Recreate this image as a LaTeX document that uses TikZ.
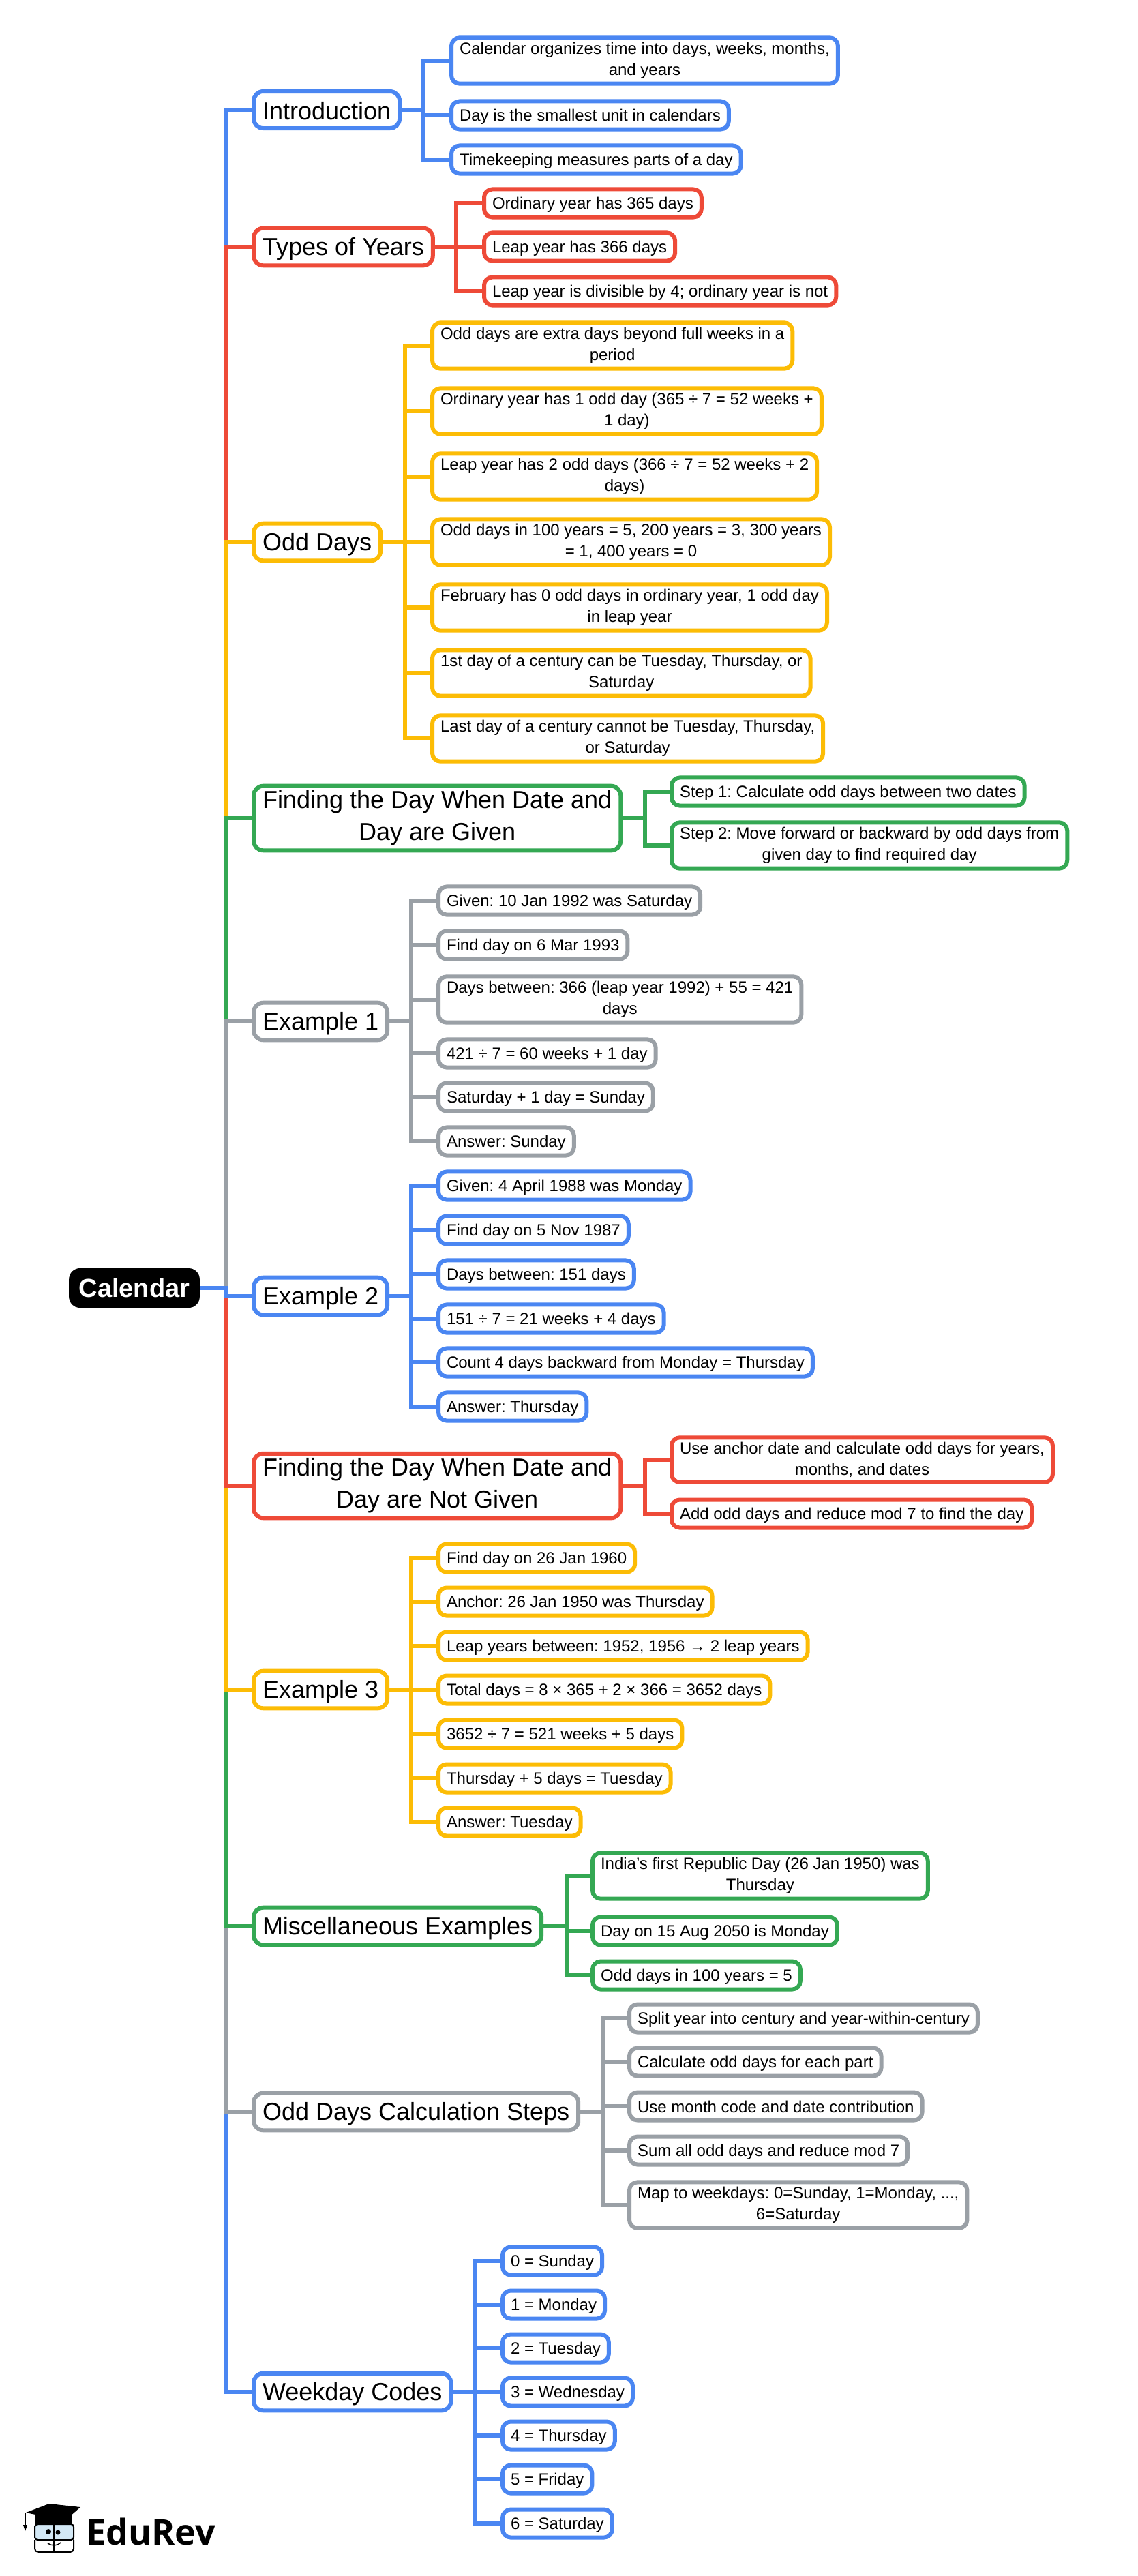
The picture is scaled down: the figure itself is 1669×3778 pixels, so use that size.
\documentclass[tikz,border=0pt]{standalone}
\usepackage{fontspec}
\setmainfont{Liberation Sans}
\newfontfamily\logofont{Open Sans}
\usepackage{tikz}
\usetikzlibrary{calc,backgrounds}
\definecolor{myblue}{HTML}{4A86F2}
\definecolor{myred}{HTML}{EE4A38}
\definecolor{myyellow}{HTML}{FCBC05}
\definecolor{mygreen}{HTML}{34A853}
\definecolor{mygrey}{HTML}{9AA0A6}
\definecolor{myglass}{HTML}{D3E8F5}
\newcommand{\linerule}{\rule[-.1em]{0pt}{1.02em}}
\frenchspacing
\tikzset{
  rootbox/.style={fill=black,text=white,rounded corners=16pt,anchor=west,inner xsep=14.5pt,inner ysep=0pt,minimum height=58pt,font=\fontsize{38}{46}\selectfont\bfseries},
  topicbox/.style={draw=#1,fill=white,line width=6pt,rounded corners=14pt,anchor=west,inner xsep=13pt,inner ysep=7pt,minimum height=54pt,align=center,font=\fontsize{36}{47}\selectfont,execute at begin node=\linerule,execute at end node=\linerule},
  leafbox/.style={draw=#1,fill=white,line width=6pt,rounded corners=12pt,anchor=west,inner xsep=12pt,inner ysep=7pt,minimum height=41pt,align=center,font=\fontsize{24}{31}\selectfont,execute at begin node=\linerule,execute at end node=\linerule},
  branch/.style={line width=6pt}
}
\begin{document}
\begin{tikzpicture}
\useasboundingbox (0pt,0pt) rectangle (1669pt,-3778pt);
\coordinate (rootbus) at (332pt,0pt);
\coordinate (1bus) at (620pt,0pt);
\coordinate (2bus) at (669pt,0pt);
\coordinate (3bus) at (594pt,0pt);
\coordinate (4bus) at (946pt,0pt);
\coordinate (5bus) at (603pt,0pt);
\coordinate (6bus) at (603pt,0pt);
\coordinate (7bus) at (946pt,0pt);
\coordinate (8bus) at (603pt,0pt);
\coordinate (9bus) at (832pt,0pt);
\coordinate (10bus) at (885pt,0pt);
\coordinate (11bus) at (697pt,0pt);

\node[rootbox] (0) at (101pt,-1889pt) {Calendar};

% main topics
\node[topicbox=myblue] (1) at (369pt,-161pt) {Introduction};
\node[topicbox=myred] (2) at (369pt,-362pt) {Types of Years};
\node[topicbox=myyellow] (3) at (369pt,-795pt) {Odd Days};
\node[topicbox=mygreen] (4) at (369pt,-1200pt) {Finding the Day When Date and\\Day are Given};
\node[topicbox=mygrey] (5) at (369pt,-1498pt) {Example 1};
\node[topicbox=myblue] (6) at (369pt,-1901pt) {Example 2};
\node[topicbox=myred] (7) at (369pt,-2179pt) {Finding the Day When Date and\\Day are Not Given};
\node[topicbox=myyellow] (8) at (369pt,-2478pt) {Example 3};
\node[topicbox=mygreen] (9) at (369pt,-2825pt) {Miscellaneous Examples};
\node[topicbox=mygrey] (10) at (369pt,-3097pt) {Odd Days Calculation Steps};
\node[topicbox=myblue] (11) at (369pt,-3508pt) {Weekday Codes};

% Introduction
\node[leafbox=myblue] (1a) at (659pt,-89pt) {Calendar organizes time into days, weeks, months,\\and years};
\node[leafbox=myblue] (1b) at (659pt,-169pt) {Day is the smallest unit in calendars};
\node[leafbox=myblue] (1c) at (659pt,-234pt) {Timekeeping measures parts of a day};

% Types of Years
\node[leafbox=myred] (2a) at (707pt,-298pt) {Ordinary year has 365 days};
\node[leafbox=myred] (2b) at (707pt,-362pt) {Leap year has 366 days};
\node[leafbox=myred] (2c) at (707pt,-427pt) {Leap year is divisible by 4; ordinary year is not};

% Odd Days
\node[leafbox=myyellow] (3a) at (631pt,-507pt) {Odd days are extra days beyond full weeks in a\\period};
\node[leafbox=myyellow] (3b) at (631pt,-603pt) {Ordinary year has 1 odd day (365 ÷ 7 = 52 weeks +\\1 day)};
\node[leafbox=myyellow] (3c) at (631pt,-699pt) {Leap year has 2 odd days (366 ÷ 7 = 52 weeks + 2\\days)};
\node[leafbox=myyellow] (3d) at (631pt,-795pt) {Odd days in 100 years = 5, 200 years = 3, 300 years\\= 1, 400 years = 0};
\node[leafbox=myyellow] (3e) at (631pt,-891pt) {February has 0 odd days in ordinary year, 1 odd day\\in leap year};
\node[leafbox=myyellow] (3f) at (631pt,-987pt) {1st day of a century can be Tuesday, Thursday, or\\Saturday};
\node[leafbox=myyellow] (3g) at (631pt,-1083pt) {Last day of a century cannot be Tuesday, Thursday,\\or Saturday};

% Finding the Day When Date and Day are Given
\node[leafbox=mygreen] (4a) at (982pt,-1161pt) {Step 1: Calculate odd days between two dates};
\node[leafbox=mygreen] (4b) at (982pt,-1240pt) {Step 2: Move forward or backward by odd days from\\given day to find required day};

% Example 1
\node[leafbox=mygrey] (5a) at (640pt,-1321pt) {Given: 10 Jan 1992 was Saturday};
\node[leafbox=mygrey] (5b) at (640pt,-1386pt) {Find day on 6 Mar 1993};
\node[leafbox=mygrey] (5c) at (640pt,-1466pt) {Days between: 366 (leap year 1992) + 55 = 421\\days};
\node[leafbox=mygrey] (5d) at (640pt,-1545pt) {421 ÷ 7 = 60 weeks + 1 day};
\node[leafbox=mygrey] (5e) at (640pt,-1609pt) {Saturday + 1 day = Sunday};
\node[leafbox=mygrey] (5f) at (640pt,-1674pt) {Answer: Sunday};

% Example 2
\node[leafbox=myblue] (6a) at (640pt,-1739pt) {Given: 4 April 1988 was Monday};
\node[leafbox=myblue] (6b) at (640pt,-1804pt) {Find day on 5 Nov 1987};
\node[leafbox=myblue] (6c) at (640pt,-1869pt) {Days between: 151 days};
\node[leafbox=myblue] (6d) at (640pt,-1934pt) {151 ÷ 7 = 21 weeks + 4 days};
\node[leafbox=myblue] (6e) at (640pt,-1998pt) {Count 4 days backward from Monday = Thursday};
\node[leafbox=myblue] (6f) at (640pt,-2063pt) {Answer: Thursday};

% Finding the Day When Date and Day are Not Given
\node[leafbox=myred] (7a) at (982pt,-2141pt) {Use anchor date and calculate odd days for years,\\months, and dates};
\node[leafbox=myred] (7b) at (982pt,-2220pt) {Add odd days and reduce mod 7 to find the day};

% Example 3
\node[leafbox=myyellow] (8a) at (640pt,-2285pt) {Find day on 26 Jan 1960};
\node[leafbox=myyellow] (8b) at (640pt,-2349pt) {Anchor: 26 Jan 1950 was Thursday};
\node[leafbox=myyellow] (8c) at (640pt,-2414pt) {Leap years between: 1952, 1956 → 2 leap years};
\node[leafbox=myyellow] (8d) at (640pt,-2478pt) {Total days = 8 × 365 + 2 × 366 = 3652 days};
\node[leafbox=myyellow] (8e) at (640pt,-2543pt) {3652 ÷ 7 = 521 weeks + 5 days};
\node[leafbox=myyellow] (8f) at (640pt,-2608pt) {Thursday + 5 days = Tuesday};
\node[leafbox=myyellow] (8g) at (640pt,-2672pt) {Answer: Tuesday};

% Miscellaneous Examples
\node[leafbox=mygreen] (9a) at (866pt,-2751pt) {India’s first Republic Day (26 Jan 1950) was\\Thursday};
\node[leafbox=mygreen] (9b) at (866pt,-2832pt) {Day on 15 Aug 2050 is Monday};
\node[leafbox=mygreen] (9c) at (866pt,-2897pt) {Odd days in 100 years = 5};

% Odd Days Calculation Steps
\node[leafbox=mygrey] (10a) at (920pt,-2960pt) {Split year into century and year-within-century};
\node[leafbox=mygrey] (10b) at (920pt,-3024pt) {Calculate odd days for each part};
\node[leafbox=mygrey] (10c) at (920pt,-3089pt) {Use month code and date contribution};
\node[leafbox=mygrey] (10d) at (920pt,-3154pt) {Sum all odd days and reduce mod 7};
\node[leafbox=mygrey] (10e) at (920pt,-3234pt) {Map to weekdays: 0=Sunday, 1=Monday, ...,\\6=Saturday};

% Weekday Codes
\node[leafbox=myblue] (11a) at (734pt,-3316pt) {0 = Sunday};
\node[leafbox=myblue] (11b) at (734pt,-3380pt) {1 = Monday};
\node[leafbox=myblue] (11c) at (734pt,-3444pt) {2 = Tuesday};
\node[leafbox=myblue] (11d) at (734pt,-3508pt) {3 = Wednesday};
\node[leafbox=myblue] (11e) at (734pt,-3572pt) {4 = Thursday};
\node[leafbox=myblue] (11f) at (734pt,-3636pt) {5 = Friday};
\node[leafbox=myblue] (11g) at (734pt,-3701pt) {6 = Saturday};

% connectors behind the boxes
\begin{scope}[on background layer]
\draw[branch,myblue] (1.east) -- (1.east -| 1bus) |- (1a.west);
\draw[branch,myblue] (1.east) -- (1.east -| 1bus) |- (1b.west);
\draw[branch,myblue] (1.east) -- (1.east -| 1bus) |- (1c.west);
\draw[branch,myred] (2.east) -- (2.east -| 2bus) |- (2a.west);
\draw[branch,myred] (2.east) -- (2b.west);
\draw[branch,myred] (2.east) -- (2.east -| 2bus) |- (2c.west);
\draw[branch,myyellow] (3.east) -- (3.east -| 3bus) |- (3a.west);
\draw[branch,myyellow] (3.east) -- (3.east -| 3bus) |- (3b.west);
\draw[branch,myyellow] (3.east) -- (3.east -| 3bus) |- (3c.west);
\draw[branch,myyellow] (3.east) -- (3d.west);
\draw[branch,myyellow] (3.east) -- (3.east -| 3bus) |- (3e.west);
\draw[branch,myyellow] (3.east) -- (3.east -| 3bus) |- (3f.west);
\draw[branch,myyellow] (3.east) -- (3.east -| 3bus) |- (3g.west);
\draw[branch,mygreen] (4.east) -- (4.east -| 4bus) |- (4a.west);
\draw[branch,mygreen] (4.east) -- (4.east -| 4bus) |- (4b.west);
\draw[branch,mygrey] (5.east) -- (5.east -| 5bus) |- (5a.west);
\draw[branch,mygrey] (5.east) -- (5.east -| 5bus) |- (5b.west);
\draw[branch,mygrey] (5.east) -- (5.east -| 5bus) |- (5c.west);
\draw[branch,mygrey] (5.east) -- (5.east -| 5bus) |- (5d.west);
\draw[branch,mygrey] (5.east) -- (5.east -| 5bus) |- (5e.west);
\draw[branch,mygrey] (5.east) -- (5.east -| 5bus) |- (5f.west);
\draw[branch,myblue] (6.east) -- (6.east -| 6bus) |- (6a.west);
\draw[branch,myblue] (6.east) -- (6.east -| 6bus) |- (6b.west);
\draw[branch,myblue] (6.east) -- (6.east -| 6bus) |- (6c.west);
\draw[branch,myblue] (6.east) -- (6.east -| 6bus) |- (6d.west);
\draw[branch,myblue] (6.east) -- (6.east -| 6bus) |- (6e.west);
\draw[branch,myblue] (6.east) -- (6.east -| 6bus) |- (6f.west);
\draw[branch,myred] (7.east) -- (7.east -| 7bus) |- (7a.west);
\draw[branch,myred] (7.east) -- (7.east -| 7bus) |- (7b.west);
\draw[branch,myyellow] (8.east) -- (8.east -| 8bus) |- (8a.west);
\draw[branch,myyellow] (8.east) -- (8.east -| 8bus) |- (8b.west);
\draw[branch,myyellow] (8.east) -- (8.east -| 8bus) |- (8c.west);
\draw[branch,myyellow] (8.east) -- (8d.west);
\draw[branch,myyellow] (8.east) -- (8.east -| 8bus) |- (8e.west);
\draw[branch,myyellow] (8.east) -- (8.east -| 8bus) |- (8f.west);
\draw[branch,myyellow] (8.east) -- (8.east -| 8bus) |- (8g.west);
\draw[branch,mygreen] (9.east) -- (9.east -| 9bus) |- (9a.west);
\draw[branch,mygreen] (9.east) -- (9.east -| 9bus) |- (9b.west);
\draw[branch,mygreen] (9.east) -- (9.east -| 9bus) |- (9c.west);
\draw[branch,mygrey] (10.east) -- (10.east -| 10bus) |- (10a.west);
\draw[branch,mygrey] (10.east) -- (10.east -| 10bus) |- (10b.west);
\draw[branch,mygrey] (10.east) -- (10.east -| 10bus) |- (10c.west);
\draw[branch,mygrey] (10.east) -- (10.east -| 10bus) |- (10d.west);
\draw[branch,mygrey] (10.east) -- (10.east -| 10bus) |- (10e.west);
\draw[branch,myblue] (11.east) -- (11.east -| 11bus) |- (11a.west);
\draw[branch,myblue] (11.east) -- (11.east -| 11bus) |- (11b.west);
\draw[branch,myblue] (11.east) -- (11.east -| 11bus) |- (11c.west);
\draw[branch,myblue] (11.east) -- (11d.west);
\draw[branch,myblue] (11.east) -- (11.east -| 11bus) |- (11e.west);
\draw[branch,myblue] (11.east) -- (11.east -| 11bus) |- (11f.west);
\draw[branch,myblue] (11.east) -- (11.east -| 11bus) |- (11g.west);

% main trunk, top half first, then bottom half upwards
\draw[branch,myblue] (0.east) -- (0.east -| rootbus) |- (1.west);
\draw[branch,myred] (0.east) -- (0.east -| rootbus) |- (2.west);
\draw[branch,myyellow] (0.east) -- (0.east -| rootbus) |- (3.west);
\draw[branch,mygreen] (0.east) -- (0.east -| rootbus) |- (4.west);
\draw[branch,mygrey] (0.east) -- (0.east -| rootbus) |- (5.west);
\draw[branch,myblue] (0.east) -- (0.east -| rootbus) |- (11.west);
\draw[branch,mygrey] (0.east) -- (0.east -| rootbus) |- (10.west);
\draw[branch,mygreen] (0.east) -- (0.east -| rootbus) |- (9.west);
\draw[branch,myyellow] (0.east) -- (0.east -| rootbus) |- (8.west);
\draw[branch,myred] (0.east) -- (0.east -| rootbus) |- (7.west);
\draw[branch,myblue] (0.east) -- (0.east -| rootbus) |- (6.west);
\end{scope}

% logo
\node[anchor=base west,inner sep=0pt,font=\fontsize{52}{52}\selectfont\logofont\bfseries] (logo) at (126pt,-3732pt) {EduRev};
\draw[black,line width=2pt,fill=myglass,rounded corners=4pt] (51pt,-3702pt) rectangle (108pt,-3725pt);
\draw[black,line width=2pt,rounded corners=5pt] (51pt,-3725pt) -- (51pt,-3743pt) -- (108pt,-3743pt) -- (108pt,-3725pt);
\draw[black,line width=2pt] (79pt,-3702pt) -- (79pt,-3743pt);
\fill[black] (51pt,-3688pt) rectangle (105pt,-3702pt);
\fill[black] (38pt,-3685pt) -- (72pt,-3672pt) -- (118pt,-3677pt) -- (95pt,-3697pt) -- cycle;
\draw[black,line width=1.5pt] (37pt,-3685pt) -- (37pt,-3703pt);
\fill[black] (37pt,-3712pt) -- (34pt,-3703pt) -- (40pt,-3703pt) -- cycle;
\fill[black] (71pt,-3713pt) circle (4pt);
\fill[black] (85pt,-3714pt) circle (3.5pt);
\draw[black,line width=1.5pt] (70pt,-3730pt) .. controls (76pt,-3734pt) and (84pt,-3734pt) .. (89pt,-3729pt);
\end{tikzpicture}
\end{document}
